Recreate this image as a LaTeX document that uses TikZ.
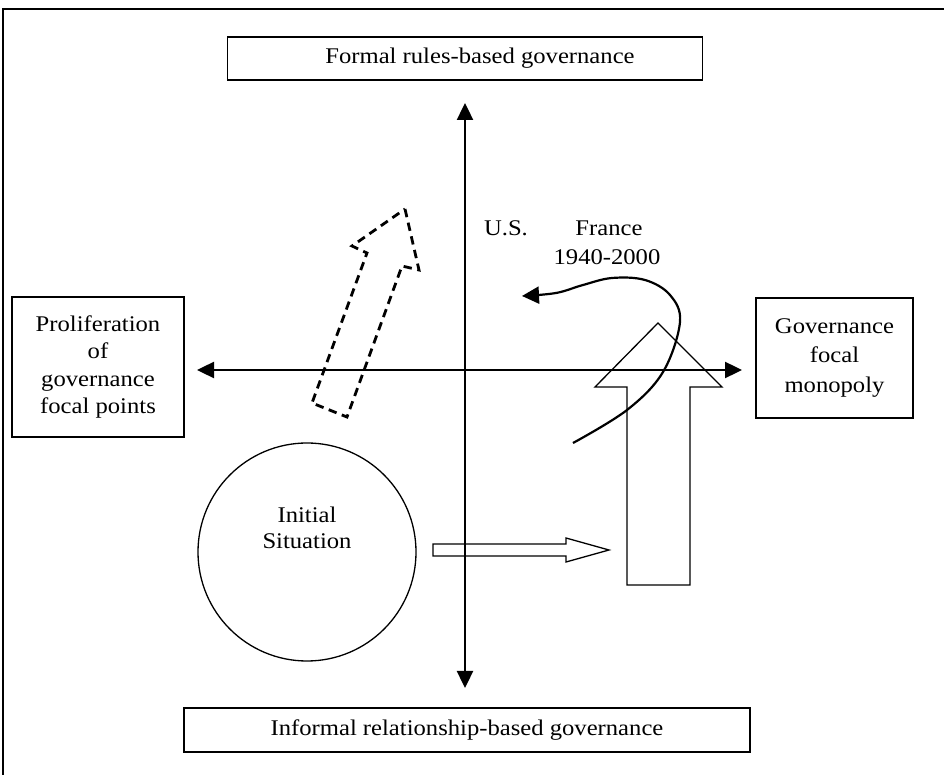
\documentclass[tikz,border=0pt]{standalone}
\usepackage{fontspec}
\setmainfont[FakeStretch=1.1]{Liberation Serif}
\usetikzlibrary{arrows.meta}
\begin{document}
\begin{tikzpicture}[x=0.5pt,y=-0.5pt,
  box/.style={draw,line width=0.65pt,inner sep=0pt,align=center},
  txt/.style={inner sep=0pt,align=center},
  axis/.style={line width=1.2pt,{Triangle[length=8.5pt,width=8pt]}-{Triangle[length=8.5pt,width=8pt]}},
  blockarrow/.style={draw,line width=0.65pt,line join=miter},
  dasharrow/.style={draw,line width=1.4pt,dash pattern=on 4.2pt off 2.8pt,line join=miter},
  font=\fontsize{11.2}{13.7}\selectfont]
\useasboundingbox (0,0) rectangle (944,775);
% outer frame (cropped at right and bottom)
\draw[line width=0.6pt] (3,9) rectangle (960,790);
% boxes
\node[box,minimum width=237.5pt,minimum height=21.5pt] (top) at (465,58.5) {\hspace{15pt}Formal rules-based governance};
\node[box,minimum width=283pt,minimum height=22pt] (bot) at (467,730) {Informal relationship-based governance};
\node[box,minimum width=86pt,minimum height=70pt] (left) at (98,367) {Proliferation\\of\\governance\\focal points};
\node[box,minimum width=78.5pt,minimum height=60pt,font=\fontsize{11.2}{14.7}\selectfont] (right) at (834.5,358) {Governance\\focal\\monopoly};
% axes
\coordinate (vtop) at (465,103);
\coordinate (vbot) at (465,688);
\coordinate (hleft) at (197,370);
\coordinate (hright) at (742,370);
\draw[axis] (vbot) -- (vtop);
\draw[axis] (hleft) -- (hright);
% circle
\node[draw,circle,line width=0.65pt,minimum size=109pt,inner sep=0pt] (init) at (307,552) {};
\node[txt,font=\fontsize{11.2}{13}\selectfont] (inittxt) at (307,528) {Initial\\Situation};
% labels
\node[txt] (us) at (506,228) {U.S.};
\node[txt] (fr) at (609,228) {France};
\node[txt] (yrs) at (607,257) {1940-2000};
% big vertical block arrow
\draw[blockarrow] (627,585) -- (627,387) -- (595,387) -- (658,323) -- (722,387) -- (690,387) -- (690,585) -- cycle;
% small horizontal block arrow
\draw[blockarrow] (433,544) -- (566,544) -- (566,538) -- (609,550) -- (566,562) -- (566,556) -- (433,556) -- cycle;
% dashed block arrow
\draw[dasharrow] (405,209) -- (419,270) -- (402,266) -- (347,417) -- (312,403) -- (367,253) -- (352,246) -- cycle;
% curved arrow
\coordinate (cstart) at (573,443);
\coordinate (cend) at (522,296);
\draw[line width=1.1pt,-{Triangle[length=8.5pt,width=8.5pt]}] plot[smooth,tension=0.6] coordinates {(cstart) (627,410) (663,372) (680,322) (670,295) (645,280) (612,278) (583,285) (556,293) (cend)};
\end{tikzpicture}
\end{document}
